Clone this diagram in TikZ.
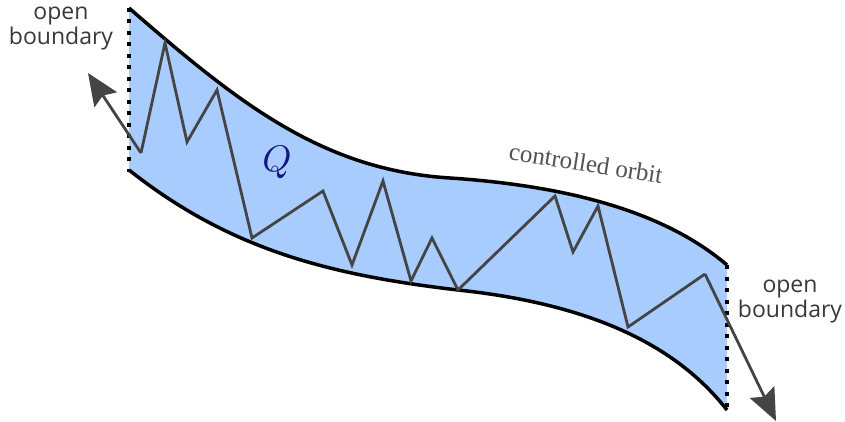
\documentclass[tikz,border=0pt]{standalone}
\usepackage{fontspec}
\setsansfont{Open Sans}
\newfontfamily\orbitfont{Liberation Serif}
\usetikzlibrary{arrows.meta}
\definecolor{bandblue}{RGB}{168,204,253}
\definecolor{zig}{RGB}{68,68,68}
\definecolor{qblue}{RGB}{20,20,130}
\tikzset{
  edge/.style={line width=3.5pt, black},
  openb/.style={line width=4pt, black, dash pattern=on 4pt off 7.5pt},
  zigline/.style={line width=2.8pt, zig, line join=miter},
  lbl/.style={font=\sffamily\fontsize{23}{25}\selectfont, text=black!78, align=center},
  big/.style={-{Stealth[length=32pt,width=27pt,inset=5pt]}}
}
\begin{document}
\begin{tikzpicture}[x=1pt,y=-1pt]
\useasboundingbox (0,0) rectangle (845,422);
% band fill
\fill[bandblue] (129,8) .. controls (235,100) and (320,170) .. (450,178)
  .. controls (600,188) and (680,225) .. (727,265) -- (727,410)
  .. controls (680,350) and (600,305) .. (458,290)
  .. controls (330,275) and (230,250) .. (129,170) -- cycle;
% edges
\draw[edge] (129,8) .. controls (235,100) and (320,170) .. (450,178)
  .. controls (600,188) and (680,225) .. (727,265);
\draw[edge] (129,170) .. controls (230,250) and (330,275) .. (458,290)
  .. controls (600,305) and (680,350) .. (727,410);
\draw[openb] (129,8) -- (129,172);
\draw[openb] (727,265) -- (727,412);
% zigzag
\coordinate (s) at (141,153);
\coordinate (e) at (705,274);
\coordinate (ltip) at (88,73);
\coordinate (rtip) at (776,421);
\draw[zigline] (s) -- (165,43) -- (187,142) -- (217,90) -- (252,238) -- (323,191)
  -- (352,265) -- (383,181) -- (411,281) -- (432,238) -- (458,290) -- (555,196)
  -- (573,252) -- (598,206) -- (628,327) -- (e);
\draw[zigline, big, fill=zig] (s) -- (ltip);
\draw[zigline, big, fill=zig] (e) -- (rtip);
% labels
\node[lbl] (lb) at (61,28) {open\\boundary};
\node[lbl] (rb) at (790,301) {open\\boundary};
\node[font=\orbitfont\fontsize{25}{26}\selectfont, text=black!68, rotate=-9] (co) at (586,163) {controlled orbit};
\node[text=qblue, scale=3.7, inner sep=0pt] (q) at (277,162) {$Q$};
\end{tikzpicture}
\end{document}
